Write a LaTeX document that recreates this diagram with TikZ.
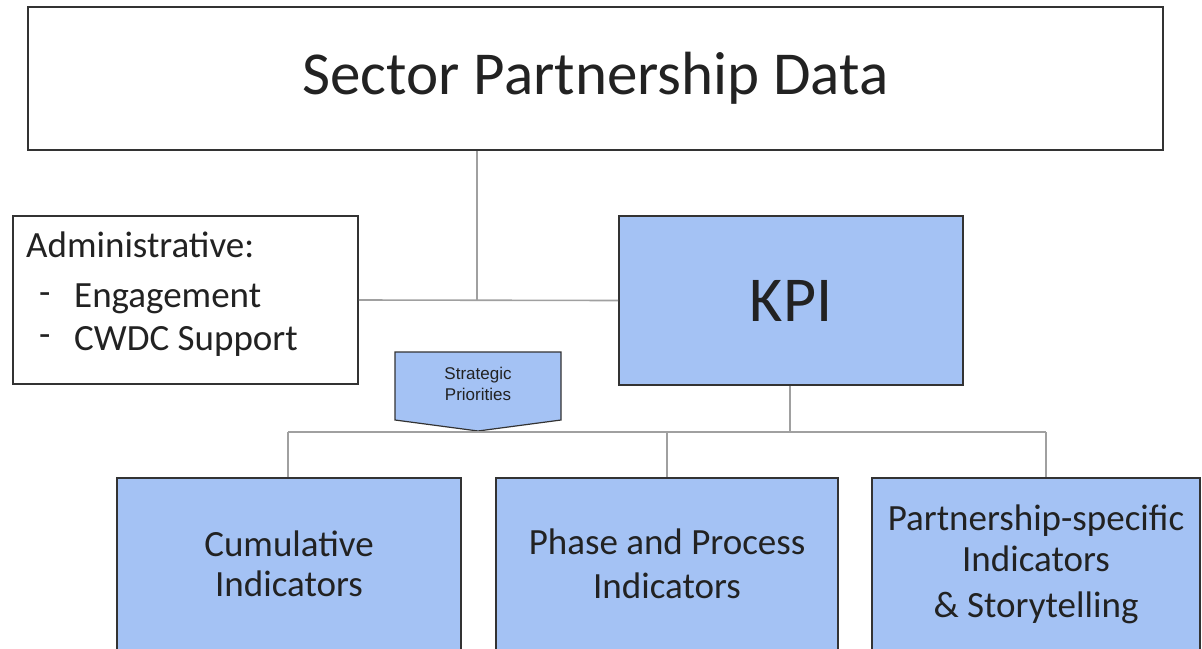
\documentclass[tikz,border=0pt]{standalone}
\usepackage{fontspec}
\setmainfont{Carlito}
\newfontfamily\arialf{Liberation Sans}
\definecolor{boxblue}{HTML}{A4C2F4}
\definecolor{edgedark}{HTML}{333333}
\definecolor{linegray}{HTML}{A0A0A0}
\definecolor{txt}{HTML}{222222}
\begin{document}
\begin{tikzpicture}[x=1pt,y=-1pt,
  plainbox/.style={draw=edgedark,line width=1.8pt,fill=white,inner sep=0pt,text=txt},
  bluebox/.style={draw=edgedark,line width=1.8pt,fill=boxblue,inner sep=0pt,text=txt,align=center},
  bodytext/.style={text=txt,inner sep=0pt,font=\fontsize{37}{44}\selectfont},
  conn/.style={draw=linegray,line width=1.6pt}]
\useasboundingbox (0,0) rectangle (1202,648);
\node[plainbox,minimum width=1135pt,minimum height=143pt,font=\fontsize{61}{70}\selectfont] (top) at (595.5,78.5)
  {Sector Partnership Data};
\node[plainbox,minimum width=345pt,minimum height=168pt] (admin) at (185.5,300) {};
\node[bodytext,anchor=west] (admt) at (26,245) {Administrative:};
\node[bodytext,anchor=west] (d1) at (39,299) {-};
\node[bodytext,anchor=west] (e1) at (74,299) {Engagement};
\node[bodytext,anchor=west] (d2) at (39,341) {-};
\node[bodytext,anchor=west] (e2) at (74,341) {CWDC Support};
\node[bluebox,minimum width=344pt,minimum height=169pt,font=\fontsize{64}{70}\selectfont] (kpi) at (791,300.5)
  {KPI};
\node[bluebox,minimum width=344pt,minimum height=172pt,font=\fontsize{37}{40}\selectfont] (b1) at (289,564)
  {Cumulative\\Indicators};
\node[bluebox,minimum width=342pt,minimum height=172pt,font=\fontsize{37}{44}\selectfont] (b2) at (667,564)
  {Phase and Process\\Indicators};
\node[bluebox,minimum width=328pt,minimum height=172pt,font=\fontsize{37}{41}\selectfont] (b3) at (1036,564)
  {Partnership-specific\\Indicators\\[5pt]\& Storytelling};
% strategic priorities pentagon
\draw[draw=edgedark,line width=1.2pt,fill=boxblue] (395,352) -- (561,352) -- (561,420) -- (478,431) -- (395,420) -- cycle;
\node[text=txt,align=center,inner sep=0pt,font=\arialf\fontsize{17}{21}\selectfont] (sp) at (478,384)
  {Strategic\\Priorities};
% connectors
\coordinate (j1) at (477,300);
\coordinate (j2) at (790,432);
\coordinate (jl) at (288,432);
\coordinate (jr) at (1046,432);
\coordinate (jm) at (667,432);
\draw[conn] (top.south -| j1) -- (j1);
\draw[conn] (admin.east) -- (kpi.west);
\draw[conn] (kpi.south -| j2) -- (j2);
\draw[conn] (jl) -- (jr);
\draw[conn] (jl) -- (jl |- b1.north);
\draw[conn] (jm) -- (jm |- b2.north);
\draw[conn] (jr) -- (jr |- b3.north);
\end{tikzpicture}
\end{document}
